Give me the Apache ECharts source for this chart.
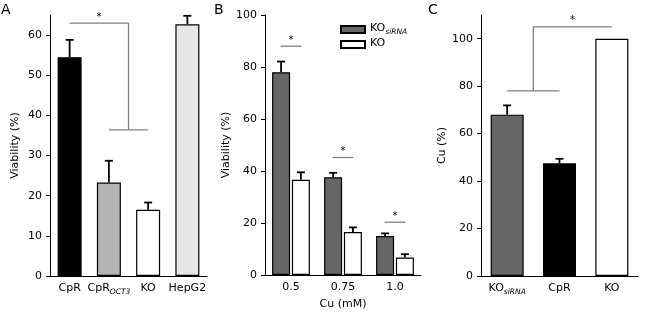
<!DOCTYPE html>
<html>
<head>
<meta charset="utf-8">
<script src="https://cdn.jsdelivr.net/npm/echarts@6/dist/echarts.min.js"></script>
<style>
  html, body { margin: 0; padding: 0; background: #fff; }
  #main { width: 650px; height: 315px; }
</style>
</head>
<body>
<div id="main"></div>
<script>
// panel A - viability per cell line
const catsA = ['CpR', 'CpR_OCT3', 'KO', 'HepG2'];
const viabA = [54.5, 23.3, 16.5, 62.7];
const sdA = [4.3, 5.4, 1.8, 2.1];
const colorsA = ['#000000', '#b3b3b3', '#ffffff', '#e6e6e6'];
const ticksA = [0, 10, 20, 30, 40, 50, 60];
const bracketA = [[0, 63, 1.5, 63], [1.5, 63, 1.5, 36.4], [1, 36.4, 2, 36.4]];
const starA = [[0.75, 63]];

// panel B - viability vs Cu
const catsB = ['0.5', '0.75', '1.0'];
const koSi = [78.0, 37.6, 15.0];
const koSiSd = [4.1, 1.7, 1.0];
const ko = [36.6, 16.5, 6.7];
const koSd = [2.9, 1.8, 1.3];
const ticksB = [0, 20, 40, 60, 80, 100];
const bracketB = [[-0.2, 88, 0.2, 88], [0.8, 45.2, 1.2, 45.2], [1.8, 20.3, 2.2, 20.3]];
const starB = [[0, 88], [1, 45.2], [2, 20.3]];

// panel C - Cu content
const catsC = ['KO_siRNA', 'CpR', 'KO'];
const cuC = [68.0, 47.5, 100];
const sdC = [3.9, 1.9, 0];
const colorsC = ['#666666', '#000000', '#ffffff'];
const ticksC = [0, 20, 40, 60, 80, 100];
const bracketC = [[0, 78, 1, 78], [0.5, 78, 0.5, 105], [0.5, 105, 2, 105]];
const starC = [[1.25, 105]];

const FONT = 'DejaVu Sans';

// "CpR_OCT3" -> CpR with italic subscript
function subLabel(v) {
  const p = v.split('_');
  return p.length > 1 ? '{n|' + p[0] + '}{s|' + p[1] + '}' : '{n|' + v + '}';
}
const rich = {
  n: { fontFamily: FONT, fontSize: 11, color: '#000', verticalAlign: 'top', lineHeight: 13 },
  s: { fontFamily: FONT, fontSize: 7.5, fontStyle: 'italic', color: '#000', verticalAlign: 'top', lineHeight: 9, padding: [5, 0, 0, 0] }
};

function catAxis(grid, data) {
  return {
    type: 'category', gridIndex: grid, data: data,
    axisLine: { onZero: false, lineStyle: { color: '#000', width: 1 } },
    axisTick: { show: false },
    axisLabel: { interval: 0, margin: 7, formatter: subLabel, rich: rich }
  };
}
function annAxis(grid, n) {
  return { type: 'value', gridIndex: grid, min: -0.5, max: n - 0.5, show: false };
}
function valAxis(grid, max, step, ticks, name, gap) {
  return {
    type: 'value', gridIndex: grid, min: 0, max: max, interval: step,
    name: name, nameLocation: 'middle', nameGap: gap,
    nameTextStyle: { fontFamily: FONT, fontSize: 11, color: '#000' },
    axisLine: { show: true, onZero: false, lineStyle: { color: '#000', width: 1 } },
    axisTick: { show: true, length: 4, customValues: ticks, lineStyle: { color: '#000' } },
    axisLabel: { margin: 8, customValues: ticks, fontFamily: FONT, fontSize: 11, color: '#000' },
    splitLine: { show: false }
  };
}

function barSeries(x, y, vals, colors, width, name, color) {
  return {
    type: 'bar', name: name, xAxisIndex: x, yAxisIndex: y, barWidth: width, barGap: '10%',
    itemStyle: { color: color, borderColor: '#000', borderWidth: 1.2 },
    data: vals.map((v, i) => colors ? { value: v, itemStyle: { color: colors[i] } } : v),
    z: 2
  };
}

function errorSeries(x, y, vals, sds, dx) {
  return {
    type: 'custom', xAxisIndex: x, yAxisIndex: y, z: 3, silent: true,
    data: vals.map((v, i) => [i, v, sds[i]]),
    renderItem: function (params, api) {
      if (!api.value(2)) return null;
      const base = api.coord([api.value(0), api.value(1)]);
      const top = api.coord([api.value(0), api.value(1) + api.value(2)]);
      const cx = base[0] + dx;
      const st = { stroke: '#000', lineWidth: 1.8 };
      return {
        type: 'group', children: [
          { type: 'line', shape: { x1: cx, y1: base[1], x2: cx, y2: top[1] }, style: st },
          { type: 'line', shape: { x1: cx - 4, y1: top[1], x2: cx + 4, y2: top[1] }, style: st }
        ]
      };
    }
  };
}

function bracketSeries(x, y, segs) {
  return {
    type: 'custom', xAxisIndex: x, yAxisIndex: y, z: 4, silent: true,
    data: segs,
    renderItem: function (params, api) {
      const a = api.coord([api.value(0), api.value(1)]);
      const b = api.coord([api.value(2), api.value(3)]);
      return { type: 'line', shape: { x1: a[0], y1: a[1], x2: b[0], y2: b[1] },
        style: { stroke: '#808080', lineWidth: 1.3 } };
    }
  };
}

function starSeries(x, y, pts) {
  return {
    type: 'custom', xAxisIndex: x, yAxisIndex: y, z: 4, silent: true,
    data: pts,
    renderItem: function (params, api) {
      const p = api.coord([api.value(0), api.value(1)]);
      return { type: 'text', x: p[0], y: p[1] - 1,
        style: { text: '*', fontFamily: FONT, fontSize: 10, fill: '#000', align: 'center', verticalAlign: 'bottom' } };
    }
  };
}

const option = {
  backgroundColor: '#fff',
  animation: false,
  textStyle: { fontFamily: FONT },
  grid: [
    { left: 50, top: 15, width: 157, height: 261 },
    { left: 265, top: 15, width: 156, height: 261 },
    { left: 481, top: 15, width: 157, height: 261 }
  ],
  xAxis: [
    catAxis(0, catsA), catAxis(1, catsB), catAxis(2, catsC),
    annAxis(0, catsA.length), annAxis(1, catsB.length), annAxis(2, catsC.length)
  ],
  yAxis: [
    valAxis(0, 65, 10, ticksA, 'Viability (%)', 29),
    valAxis(1, 100, 20, ticksB, 'Viability (%)', 29),
    valAxis(2, 110, 20, ticksC, 'Cu (%)', 29)
  ],
  legend: {
    orient: 'vertical', left: 340, top: 23, padding: 0, itemGap: 2,
    itemWidth: 24, itemHeight: 7, icon: 'rect',
    formatter: subLabel,
    textStyle: { rich: rich },
    data: ['KO_siRNA', 'KO']
  },
  graphic: [
    { type: 'text', left: 1, top: 3, style: { text: 'A', fontFamily: FONT, fontSize: 14, fill: '#000' } },
    { type: 'text', left: 214, top: 3, style: { text: 'B', fontFamily: FONT, fontSize: 14, fill: '#000' } },
    { type: 'text', left: 428, top: 3, style: { text: 'C', fontFamily: FONT, fontSize: 14, fill: '#000' } }
  ],
  series: [
    barSeries(0, 0, viabA, colorsA, 24),
    errorSeries(0, 0, viabA, sdA, 0),
    bracketSeries(3, 0, bracketA),
    starSeries(3, 0, starA),

    barSeries(1, 1, koSi, null, 18, 'KO_siRNA', '#666666'),
    barSeries(1, 1, ko, null, 18, 'KO', '#ffffff'),
    errorSeries(1, 1, koSi, koSiSd, -9.9),
    errorSeries(1, 1, ko, koSd, 9.9),
    bracketSeries(4, 1, bracketB),
    starSeries(4, 1, starB),

    barSeries(2, 2, cuC, colorsC, 33),
    errorSeries(2, 2, cuC, sdC, 0),
    bracketSeries(5, 2, bracketC),
    starSeries(5, 2, starC)
  ]
};
// x-axis name for panel B
option.xAxis[1].name = 'Cu (mM)';
option.xAxis[1].nameLocation = 'middle';
option.xAxis[1].nameGap = 18;
option.xAxis[1].nameTextStyle = { fontFamily: FONT, fontSize: 11, color: '#000', padding: [6, 0, 0, 0] };

const chart = echarts.init(document.getElementById('main'), null, { renderer: 'canvas' });
chart.setOption(option);
</script>
</body>
</html>
